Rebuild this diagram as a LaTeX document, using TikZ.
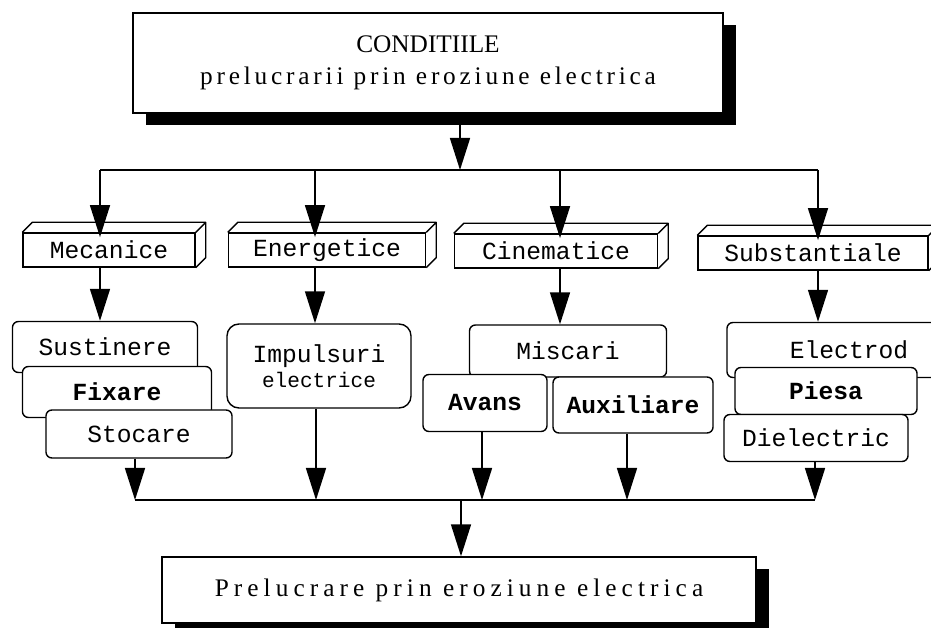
\documentclass[tikz,border=0pt]{standalone}
\usepackage{fontspec}
\setmainfont{Liberation Serif}
\setmonofont{Liberation Mono}
\usetikzlibrary{arrows.meta,shadows}

\begin{document}
\begin{tikzpicture}
  [x=0.025cm,y=-0.025cm,
   head_style/.style={draw,line width=1pt,fill=white,align=center,inner sep=0pt,
     drop shadow={shadow xshift=0.32cm,shadow yshift=-0.3cm,fill=black,opacity=1}},
   cube_style/.style={draw,line width=1pt,fill=white,minimum height=0.85cm,inner sep=0pt,
     font=\ttfamily\fontsize{17.5}{19}\selectfont},
   item_style/.style={draw,line width=1pt,fill=white,rounded corners=0.15cm,inner sep=0pt,
     font=\ttfamily\fontsize{17.5}{19}\selectfont},
   edge_style/.style={draw=black,line width=1.1pt},
   arrow_style/.style={edge_style,-{Triangle[length=0.8cm,width=0.5cm]}}]
  \useasboundingbox (0,0) rectangle (931,628);
  \clip (0,0) rectangle (931,628);

  % title
  \node[head_style,minimum width=14.75cm,minimum height=2.5cm,font=\fontsize{18}{23}\selectfont] (top) at (428,63)
    {CONDITIILE\\{\addfontfeature{LetterSpace=15}prelucrarii prin eroziune electrica}};

  % groups
  \node[cube_style,minimum width=4.3cm] (mec) at (109,250) {Mecanice};
  \node[cube_style,minimum width=4.925cm] (ene) at (327,250) {Energetice};
  \node[cube_style,minimum width=5.075cm] (cin) at (556,251) {Cinematice};
  \node[cube_style,minimum width=5.75cm] (sub) at (813,253) {Substantiale};
  \foreach \n in {mec,ene,cin,sub}
    \draw[line width=1pt,line join=round] (\n.north west) -- ++(10,-10) -- ([shift={(10,-10)}]\n.north east)
      -- ([shift={(10,-10)}]\n.south east) -- (\n.south east) (\n.north east) -- ++(10,-10);

  % items
  \node[item_style,minimum width=4.625cm,minimum height=1.275cm] (sus) at (105,347) {Sustinere};
  \node[item_style,minimum width=4.725cm,minimum height=1.275cm] (fix) at (117,392) {\bfseries Fixare};
  \node[item_style,minimum width=4.65cm,minimum height=1.2cm] (sto) at (139,434) {Stocare};
  \node[item_style,minimum width=4.6cm,minimum height=2.1cm,rounded corners=0.3cm,align=center] (imp) at (319,366)
    {Impulsuri\\[-1pt]{\fontsize{15}{16}\selectfont electrice}};
  \node[item_style,minimum width=4.925cm,minimum height=1.3cm] (mis) at (568,351) {Miscari};
  \node[item_style,minimum width=3.1cm,minimum height=1.425cm] (ava) at (485,403) {\bfseries Avans};
  \node[item_style,minimum width=4cm,minimum height=1.4cm] (aux) at (633,405) {\bfseries Auxiliare};
  \node[item_style,minimum width=6.1cm,minimum height=1.375cm] (ele) at (849,350) {Electrod};
  \node[item_style,minimum width=4.55cm,minimum height=1.175cm] (pie) at (826,391) {\bfseries Piesa};
  \node[item_style,minimum width=4.6cm,minimum height=1.175cm] (die) at (816,438) {Dielectric};

  % result
  \node[head_style,minimum width=14.85cm,minimum height=1.65cm,font=\fontsize{18}{20}\selectfont\addfontfeature{LetterSpace=20}] (bot) at (459,590)
    {Prelucrare prin eroziune electrica};

  % branching
  \coordinate (split) at (460,170);
  \coordinate (b1) at (100,170);
  \coordinate (b2) at (315,170);
  \coordinate (b3) at (560,170);
  \coordinate (b4) at (818,170);
  \draw[arrow_style] (split |- top.south) -- (split);
  \draw[edge_style] (b1) -- (b4);
  \foreach \b/\n in {b1/mec,b2/ene,b3/cin,b4/sub}
    \draw[arrow_style,shorten >=-0.12cm] (\b) -- (\b |- \n.north);
  \draw[arrow_style] (b1 |- mec.south) -- (b1 |- sus.north);
  \draw[arrow_style] (b2 |- ene.south) -- (b2 |- imp.north);
  \draw[arrow_style] (b3 |- cin.south) -- (b3 |- mis.north);
  \draw[arrow_style] (b4 |- sub.south) -- (b4 |- ele.north);

  % merging
  \coordinate (merge) at (461,500);
  \coordinate (c1) at (135,500);
  \coordinate (c2) at (316,500);
  \coordinate (c3) at (482,500);
  \coordinate (c4) at (627,500);
  \coordinate (c5) at (815,500);
  \foreach \c/\n in {c1/sto,c2/imp,c3/ava,c4/aux,c5/die}
    \draw[arrow_style] (\c |- \n.south) -- (\c);
  \draw[edge_style] (c1) -- (c5);
  \draw[arrow_style] (merge) -- (merge |- bot.north);
\end{tikzpicture}
\end{document}
